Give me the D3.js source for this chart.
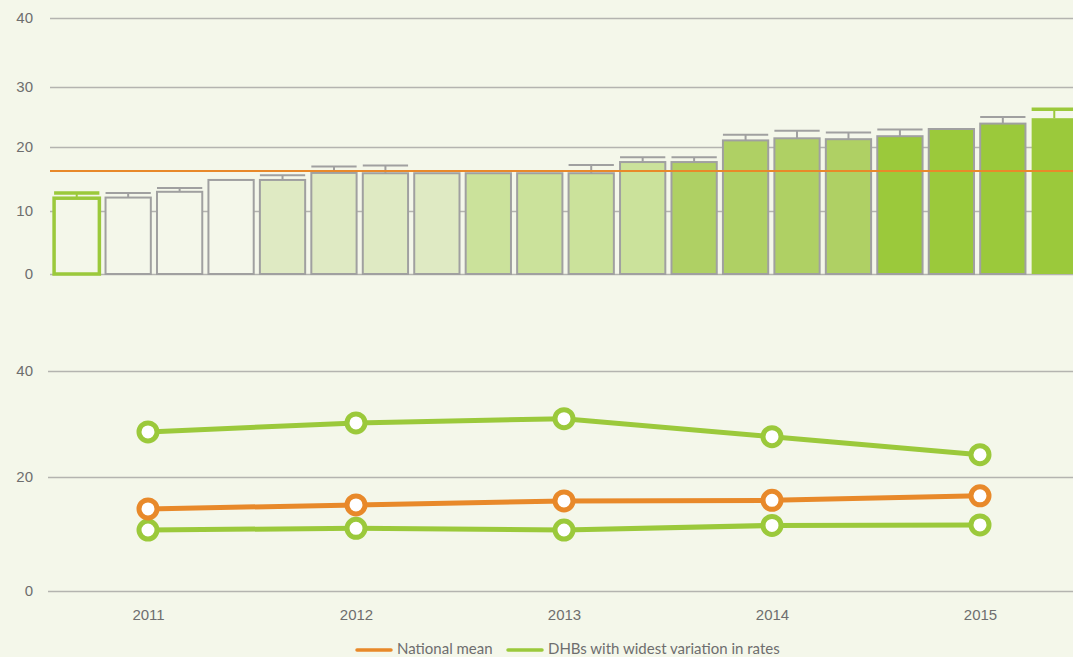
<!DOCTYPE html>
<html>
<head>
<meta charset="utf-8">
<script src="https://cdn.jsdelivr.net/npm/d3@7"></script>
<style>
  html, body { margin: 0; padding: 0; background: #f4f7ea; }
  svg { display: block; font-family: Lato, "Open Sans", sans-serif; }
  .tick text { fill: #6e6e6e; font-size: 15px; }
  .legend text { fill: #6e6e6e; font-size: 15px; }
</style>
</head>
<body>
<script>
// top panel: rate per DHB, sorted, with upper confidence limit
var dhbRates = [12.0, 12.1, 13.0, 14.85, 14.85, 15.95, 15.9, 15.9, 15.9, 15.9,
                15.9, 17.65, 17.65, 21.1, 21.45, 21.3, 21.8, 23.0, 23.9, 24.8];
var dhbUpper = [12.8, 12.8, 13.6, null, 15.6, 16.95, 17.1, null, null, null,
                17.2, 18.4, 18.4, 22.05, 22.7, 22.4, 22.9, null, 25.0, 26.3];
var dhbHighlight = [true, false, false, false, false, false, false, false, false, false,
                    false, false, false, false, false, false, false, false, false, true];
var nationalMean = 16.25;
var topTicks = [0, 10, 20, 30, 40];

// bottom panel: yearly trend
var years = ["2011", "2012", "2013", "2014", "2015"];
var highest = [28.5, 30.2, 31.0, 27.6, 24.2];
var mean = [14.4, 15.1, 15.8, 15.9, 16.7];
var lowest = [10.7, 11.0, 10.7, 11.5, 11.6];
var bottomTicks = [0, 20, 40];

var w = 1073, h = 657;
var orange = "#e8892a", green = "#9bc93b", grid = "#b4b4b0";
var quartileFill = ["#f4f7ea", "#dfeac3", "#cbe29b", "#afd064", "#9bc93b"];

var svg = d3.select("body").append("svg")
    .attr("width", w)
    .attr("height", h);

// ---- top panel ----
var xBar = d3.scaleBand()
    .domain(d3.range(dhbRates.length))
    .range([51, 51 + 20 * 51.45])
    .paddingInner(0.12)
    .paddingOuter(0.06);
var yTop = d3.scaleLinear()
    .domain([0, 10, 20, 30, 40])
    .range([274, 211, 147, 87, 18]);

var topAxis = svg.append("g")
    .attr("transform", "translate(50,0)")
    .call(d3.axisLeft(yTop).tickValues(topTicks).tickSize(-(w - 50)).tickPadding(17));
topAxis.select(".domain").remove();
topAxis.selectAll(".tick line").attr("stroke", grid).attr("stroke-width", 1.5);

var bars = svg.append("g");
bars.selectAll("rect")
    .data(dhbRates)
    .enter()
    .append("rect")
    .attr("x", function(d, i) { return xBar(i); })
    .attr("width", xBar.bandwidth())
    .attr("y", function(d) { return yTop(d); })
    .attr("height", function(d) { return yTop(0) - yTop(d); })
    .attr("fill", function(d, i) {
        if (i == 0) return quartileFill[0];
        if (i == dhbRates.length - 1) return green;
        return quartileFill[Math.floor(i / 4)];
    })
    .attr("stroke", function(d, i) {
        if (i == 0) return green;
        if (i == dhbRates.length - 1) return "none";
        return "#a0a0a0";
    })
    .attr("stroke-width", function(d, i) { return dhbHighlight[i] ? 3.5 : 2; });

var errs = svg.append("g");
dhbUpper.forEach(function(u, i) {
    if (u == null) return;
    var col = dhbHighlight[i] ? green : "#a0a0a0";
    var sw = dhbHighlight[i] ? 3.5 : 2;
    var cx = xBar(i) + xBar.bandwidth() / 2;
    errs.append("line")
        .attr("x1", cx).attr("x2", cx)
        .attr("y1", yTop(u)).attr("y2", yTop(dhbRates[i]))
        .attr("stroke", col).attr("stroke-width", 2);
    errs.append("line")
        .attr("x1", xBar(i)).attr("x2", xBar(i) + xBar.bandwidth())
        .attr("y1", yTop(u)).attr("y2", yTop(u))
        .attr("stroke", col).attr("stroke-width", sw);
});

svg.append("line")
    .attr("x1", 50).attr("x2", w)
    .attr("y1", yTop(nationalMean)).attr("y2", yTop(nationalMean))
    .attr("stroke", orange).attr("stroke-width", 2);

// ---- bottom panel ----
var xYear = d3.scalePoint()
    .domain(years)
    .range([148, 980]);
var yBot = d3.scaleLinear()
    .domain([0, 20, 40])
    .range([591, 477, 371]);

var botAxis = svg.append("g")
    .attr("transform", "translate(48,0)")
    .call(d3.axisLeft(yBot).tickValues(bottomTicks).tickSize(-(w - 48)).tickPadding(15));
botAxis.select(".domain").remove();
botAxis.selectAll(".tick line").attr("stroke", grid).attr("stroke-width", 1.5);

var xAxis = svg.append("g")
    .attr("transform", "translate(0,600)")
    .call(d3.axisBottom(xYear).tickSize(0).tickPadding(9));
xAxis.select(".domain").remove();

var line = d3.line()
    .x(function(d, i) { return xYear(years[i]); })
    .y(function(d) { return yBot(d); });

var series = [
    { values: highest, color: green },
    { values: lowest, color: green },
    { values: mean, color: orange }
];
series.forEach(function(s) {
    svg.append("path")
        .datum(s.values)
        .attr("d", line)
        .attr("fill", "none")
        .attr("stroke", s.color)
        .attr("stroke-width", 5);
    svg.append("g").selectAll("circle")
        .data(s.values)
        .enter()
        .append("circle")
        .attr("cx", function(d, i) { return xYear(years[i]); })
        .attr("cy", function(d) { return yBot(d); })
        .attr("r", 9)
        .attr("fill", "#fff")
        .attr("stroke", s.color)
        .attr("stroke-width", 5);
});

// ---- legend ----
var legendItems = [
    { label: "National mean", color: orange, x: 357 },
    { label: "DHBs with widest variation in rates", color: green, x: 508 }
];
var legend = svg.append("g").attr("class", "legend");
legendItems.forEach(function(d) {
    legend.append("line")
        .attr("x1", d.x).attr("x2", d.x + 34)
        .attr("y1", 650).attr("y2", 650)
        .attr("stroke", d.color).attr("stroke-width", 3.5)
        .attr("stroke-linecap", "round");
    legend.append("text")
        .attr("x", d.x + 40)
        .attr("y", 654)
        .text(d.label);
});
</script>
</body>
</html>
